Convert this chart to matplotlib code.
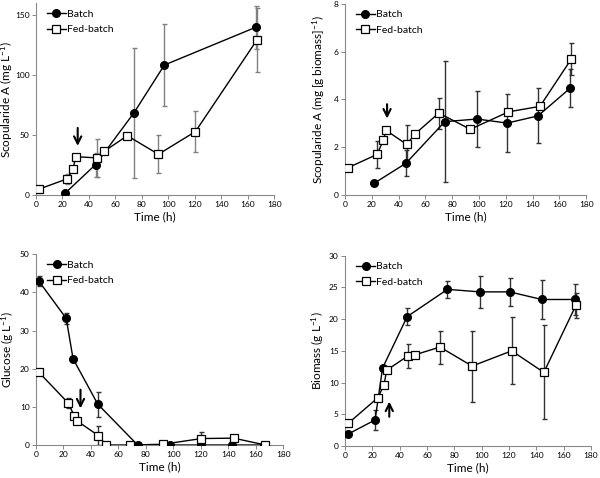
import numpy as np
import matplotlib
matplotlib.use("Agg")
import matplotlib.pyplot as plt

plt.rcParams['font.family'] = ['Lato', 'DejaVu Sans']
plt.rcParams['mathtext.default'] = 'regular'

# --- Scopularide A (mg/L) ---
scopL_batch_t = [22, 45, 74, 97, 166]
scopL_batch = [1.5, 25.4, 68.6, 108.5, 140]
scopL_batch_err = [0, 10, 54, 34, 18]
scopL_fed_t = [2.5, 23.5, 28, 30, 46, 51.5, 69, 92.5, 120.5, 167]
scopL_fed = [5, 13.5, 21.5, 32, 31, 36.5, 49.5, 34, 53, 129.5]
scopL_fed_err = [0, 4, 0, 0, 16, 0, 0, 16, 17, 27]

# --- Scopularide A (mg / g biomass) ---
scopB_batch_t = [22, 45.5, 74.5, 98.5, 121, 144, 168]
scopB_batch = [0.5, 1.33, 3.07, 3.18, 3.01, 3.31, 4.47]
scopB_batch_err = [0, 0.55, 2.54, 1.18, 1.21, 1.15, 0.8]
scopB_fed_t = [2.5, 24, 28.5, 30.8, 46, 52, 70, 93.5, 122, 145.5, 169]
scopB_fed = [1.15, 1.7, 2.29, 2.7, 2.12, 2.54, 3.43, 2.75, 3.48, 3.71, 5.7]
scopB_fed_err = [0, 0.57, 0, 0, 0.79, 0, 0.65, 0, 0, 0, 0.68]

# --- Glucose (g/L) ---
glc_batch_t = [2, 22, 27, 45, 74, 97.5, 120, 143, 166]
glc_batch = [43, 33.2, 22.6, 10.7, 0, 0, 0, 0, 0]
glc_batch_err = [1.4, 1.5, 0, 3.3, 0, 0, 0, 0, 0]
glc_fed_t = [2, 23.5, 28, 30, 45.5, 51, 68.5, 92.5, 120.5, 144, 167]
glc_fed = [19.1, 11.0, 7.5, 6.3, 2.45, 0, 0, 0.2, 1.7, 1.8, 0]
glc_fed_err = [0, 1.4, 0, 0, 2.5, 0, 0, 0, 1.75, 0.6, 0]

# --- Biomass (g/L) ---
bio_batch_t = [2, 22, 27.5, 45.5, 75, 98.5, 120.5, 144, 168]
bio_batch = [1.85, 4.1, 12.3, 20.4, 24.7, 24.3, 24.3, 23.1, 23.1]
bio_batch_err = [0, 1.65, 0, 1.3, 1.3, 2.5, 2.2, 3.0, 2.4]
bio_fed_t = [2.5, 24, 28.5, 30.5, 46, 51.5, 69.5, 93, 122, 145.5, 169]
bio_fed = [3.6, 7.6, 9.6, 11.95, 14.2, 14.4, 15.6, 12.6, 15.0, 11.6, 22.2]
bio_fed_err = [0.5, 0, 0, 0, 1.9, 0, 2.6, 5.6, 5.3, 7.4, 2.0]

# feeding arrows: (time, tail y, head y)
arrow_scopL = (31.5, 56, 41)
arrow_scopB = (31.4, 3.8, 3.2)
arrow_glc = (32.4, 14.5, 9.6)
arrow_bio = (32.4, 4.6, 7.0)

fig = plt.figure(figsize=(6, 4.78), dpi=100)
ax1 = fig.add_axes([0.06, 0.592, 0.397, 0.401])
ax2 = fig.add_axes([0.575, 0.592, 0.402, 0.400])
ax3 = fig.add_axes([0.06, 0.069, 0.412, 0.399])
ax4 = fig.add_axes([0.575, 0.067, 0.41, 0.398])


def draw_panel(ax, bt, b, be, ft, f, fe, ylabel, ymax, ystep, arrow, ecolor,
               ylab_x):
    # error bars first, then the series on top
    ax.errorbar(bt, b, yerr=be, fmt='none', ecolor=ecolor,
                elinewidth=1, capsize=1.8, zorder=2)
    ax.errorbar(ft, f, yerr=fe, fmt='none', ecolor=ecolor,
                elinewidth=1, capsize=1.8, zorder=2)
    ax.plot(bt, b, color='black', lw=1, marker='o', markersize=5.5,
            markerfacecolor='black', label='Batch', zorder=3)
    ax.plot(ft, f, color='black', lw=1, marker='s', markersize=5.5,
            markerfacecolor='white', markeredgewidth=0.9,
            label='Fed-batch', zorder=4)
    ax.set_xlim(0, 180)
    ax.set_ylim(0, ymax)
    ax.set_xticks(np.arange(0, 181, 20))
    ax.set_yticks(np.arange(0, ymax + 0.001, ystep))
    ax.set_xlabel('Time (h)', fontsize=8.5, labelpad=2)
    ax.set_ylabel(ylabel, fontsize=8.5)
    ax.yaxis.set_label_coords(ylab_x, 0.5)
    for s in ['top', 'right']:
        ax.spines[s].set_visible(False)
    for s in ['left', 'bottom']:
        ax.spines[s].set_color('#888888')
        ax.spines[s].set_linewidth(0.8)
    ax.tick_params(direction='out', length=3, width=0.7, color='#888888',
                   labelsize=6, pad=1.5)
    t, y0, y1 = arrow
    ax.annotate('', xy=(t, y1), xytext=(t, y0),
                arrowprops=dict(arrowstyle='->', lw=1.5, color='black',
                                mutation_scale=13, shrinkA=0, shrinkB=0))
    ax.legend(loc='upper left', bbox_to_anchor=(0.02, 1.0), frameon=False,
              fontsize=7.5, handlelength=1.8, handletextpad=0.1,
              labelspacing=0.6, borderaxespad=0.2)


draw_panel(ax1, scopL_batch_t, scopL_batch, scopL_batch_err,
           scopL_fed_t, scopL_fed, scopL_fed_err,
           'Scopularide A (mg L$^{-1}$)', 160, 50, arrow_scopL, '#808080',
           -0.088)
draw_panel(ax2, scopB_batch_t, scopB_batch, scopB_batch_err,
           scopB_fed_t, scopB_fed, scopB_fed_err,
           'Scopularide A (mg [g biomass]$^{-1}$)', 8, 2, arrow_scopB,
           '#333333', -0.075)
draw_panel(ax3, glc_batch_t, glc_batch, glc_batch_err,
           glc_fed_t, glc_fed, glc_fed_err,
           'Glucose (g L$^{-1}$)', 50, 10, arrow_glc, '#333333', -0.081)
draw_panel(ax4, bio_batch_t, bio_batch, bio_batch_err,
           bio_fed_t, bio_fed, bio_fed_err,
           'Biomass (g L$^{-1}$)', 30, 5, arrow_bio, '#333333', -0.077)

fig.savefig('out.png', dpi=100)
